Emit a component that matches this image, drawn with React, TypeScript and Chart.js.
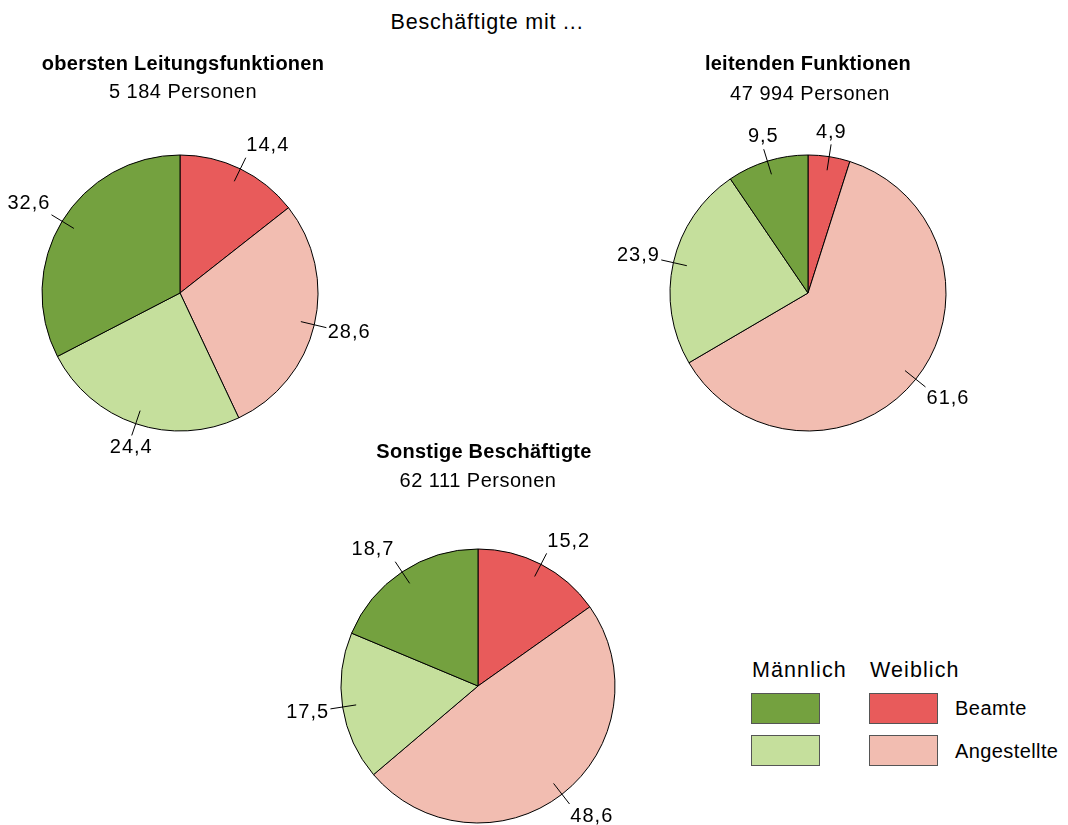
import React, { useEffect, useRef } from "react";
import { Chart, registerables } from "chart.js";

Chart.register(...registerables);

const categories = ["Weiblich Beamte", "Weiblich Angestellte", "Männlich Angestellte", "Männlich Beamte"];
const sliceColors = ["#E85B5B", "#F2BDB1", "#C5DF9C", "#74A13F"];
const oberstenValues = [14.4, 28.6, 24.4, 32.6];
const leitendenValues = [4.9, 61.6, 23.9, 9.5];
const sonstigeValues = [15.2, 48.6, 17.5, 18.7];
const pieTitles = ["obersten Leitungsfunktionen", "leitenden Funktionen", "Sonstige Beschäftigte"];
const pieSubtitles = ["5 184 Personen", "47 994 Personen", "62 111 Personen"];
const mainTitle = "Beschäftigte mit ...";
const legendHeaders = ["Männlich", "Weiblich"];
const legendRows = ["Beamte", "Angestellte"];

const FONT = "'Liberation Sans', Arial, Helvetica, sans-serif";
const S = 440;

const labelPlugin = {
  id: "pieLabels",
  afterDatasetsDraw(chart: any) {
    const ctx = chart.ctx;
    const meta = chart.getDatasetMeta(0);
    const values = chart.data.datasets[0].data as number[];
    ctx.save();
    ctx.font = `20px ${FONT}`;
    try {
      (ctx as any).letterSpacing = "1px";
    } catch (e) {}
    ctx.fillStyle = "#000";
    ctx.strokeStyle = "#000";
    ctx.lineWidth = 1;
    meta.data.forEach((arc: any, i: number) => {
      const p = arc.getProps(["x", "y", "startAngle", "endAngle", "outerRadius"], true);
      const mid = (p.startAngle + p.endAngle) / 2;
      const dx = Math.cos(mid);
      const dy = Math.sin(mid);
      const r = p.outerRadius;
      ctx.beginPath();
      ctx.moveTo(p.x + dx * r * 0.9, p.y + dy * r * 0.9);
      ctx.lineTo(p.x + dx * r * 1.09, p.y + dy * r * 1.09);
      ctx.stroke();
      const txt = values[i].toFixed(1).replace(".", ",");
      const w = ctx.measureText(txt).width;
      const ax = p.x + dx * r * 1.1;
      const ay = p.y + dy * r * 1.1;
      const offX = Math.abs(dx) > 0.38 ? Math.sign(dx) * (w / 2) : 0;
      const offY = Math.max(-11, Math.min(11, dy * 20));
      ctx.textAlign = "center";
      ctx.textBaseline = "middle";
      ctx.fillText(txt, ax + offX, ay + offY);
    });
    ctx.restore();
  },
};

function Pie({ values, cx, cy, R }: { values: number[]; cx: number; cy: number; R: number }) {
  const ref = useRef<HTMLCanvasElement | null>(null);
  useEffect(() => {
    if (!ref.current) return;
    const pad = S / 2 - R - 0.5;
    const chart = new Chart(ref.current, {
      type: "pie",
      data: {
        labels: categories,
        datasets: [
          {
            data: values,
            backgroundColor: sliceColors,
            borderColor: "#000",
            borderWidth: 1,
          },
        ],
      },
      options: {
        responsive: false,
        animation: false,
        devicePixelRatio: 1,
        layout: { padding: pad },
        plugins: { legend: { display: false }, tooltip: { enabled: false } },
      },
      plugins: [labelPlugin],
    });
    return () => chart.destroy();
  }, [values, R]);
  return (
    <canvas
      ref={ref}
      width={S}
      height={S}
      style={{ position: "absolute", left: cx - S / 2, top: cy - S / 2, width: S, height: S }}
    />
  );
}

function Text({ x, y, text, size, bold, align = "center", spacing = 0.5 }: any) {
  return (
    <div
      style={{
        position: "absolute",
        left: x,
        top: y - size * 0.58,
        transform: align === "center" ? "translateX(-50%)" : undefined,
        fontFamily: FONT,
        fontSize: size,
        fontWeight: bold ? "bold" : "normal",
        lineHeight: 1.15,
        whiteSpace: "nowrap",
        color: "#000",
        letterSpacing: `${spacing}px`,
      }}
    >
      {text}
    </div>
  );
}

function Box({ x, y, color }: any) {
  return (
    <div
      style={{
        position: "absolute",
        left: x,
        top: y,
        width: 69,
        height: 31,
        background: color,
        border: "1px solid #555",
        boxSizing: "border-box",
      }}
    />
  );
}

export default function App() {
  return (
    <div
      style={{
        position: "absolute",
        left: 0,
        top: 0,
        width: 1068,
        height: 825,
        overflow: "hidden",
        background: "#fff",
      }}
    >
      <Pie values={oberstenValues} cx={180} cy={292.5} R={138} />
      <Pie values={leitendenValues} cx={808} cy={292.5} R={138} />
      <Pie values={sonstigeValues} cx={478} cy={686} R={137} />

      <Text x={487} y={22} text={mainTitle} size={21.5} spacing={0.8} />
      <Text x={183} y={64} text={pieTitles[0]} size={20} bold spacing={0.25} />
      <Text x={183} y={92} text={pieSubtitles[0]} size={20} spacing={0.5} />
      <Text x={808} y={64} text={pieTitles[1]} size={20} bold spacing={0.25} />
      <Text x={810} y={94} text={pieSubtitles[1]} size={20} spacing={0.5} />
      <Text x={484} y={452} text={pieTitles[2]} size={20} bold spacing={0.25} />
      <Text x={478} y={481} text={pieSubtitles[2]} size={20} spacing={0.5} />

      <Text x={752} y={670} text={legendHeaders[0]} size={21.5} align="left" spacing={1.1} />
      <Text x={870} y={670} text={legendHeaders[1]} size={21.5} align="left" spacing={1.1} />
      <Box x={751} y={693} color={sliceColors[3]} />
      <Box x={751} y={735} color={sliceColors[2]} />
      <Box x={869} y={693} color={sliceColors[0]} />
      <Box x={869} y={735} color={sliceColors[1]} />
      <Text x={955} y={709} text={legendRows[0]} size={20} align="left" spacing={0.5} />
      <Text x={955} y={752} text={legendRows[1]} size={20} align="left" spacing={0.4} />
    </div>
  );
}
